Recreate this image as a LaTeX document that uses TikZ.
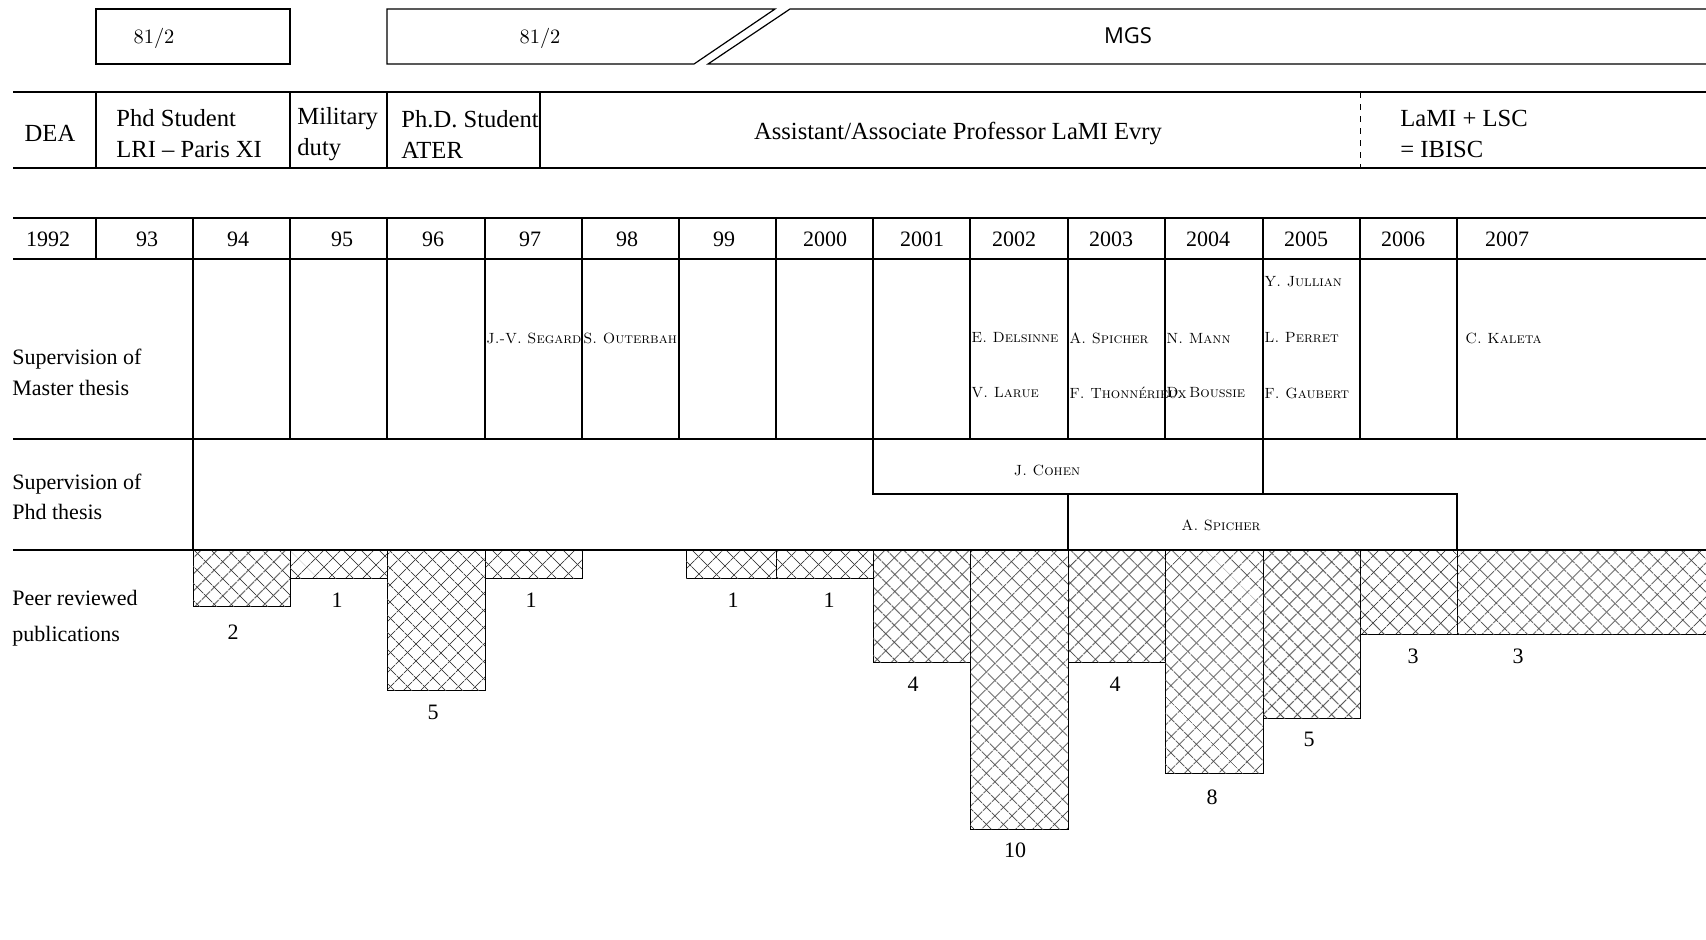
\documentclass[tikz,border=0pt]{standalone}
\usepackage{fontspec}
\newfontfamily\tms[Ligatures=TeX]{Liberation Serif}
\newfontfamily\osans{Open Sans}
\usetikzlibrary{patterns.meta}
\begin{document}
\begin{tikzpicture}[x=0.5pt,y=-0.5pt,
  grid/.style={line width=0.6pt,draw=black},
  thin/.style={line width=0.45pt,draw=black},
  lbl/.style={font=\tms\fontsize{11}{13}\selectfont,inner sep=0pt},
  big/.style={font=\tms\fontsize{12.3}{15.5}\selectfont,inner sep=0pt},
  lefttxt/.style={lbl,anchor=west,align=left},
  bigleft/.style={big,anchor=west,align=left},
  nm/.style={font=\fontsize{7.4}{9}\selectfont\scshape,inner sep=0pt,anchor=west},
  hatch/.style={thin,pattern={Lines[angle=45,distance=6.5pt,line width=0.55pt]},pattern color=black!72,
    postaction={pattern={Lines[angle=-45,distance=6.5pt,line width=0.55pt]},pattern color=black!72}}]
\useasboundingbox (0,0) rectangle (1706,939);
% ---------- top bars
\draw[grid] (96,9) rectangle (290,64);
\node[font=\fontsize{10.2}{12}\selectfont,inner sep=0pt] (half1) at (154,38) {81/2};
\draw[grid] (775,9) -- (387,9) -- (387,64) -- (694,64) -- cycle;
\node[font=\fontsize{10.2}{12}\selectfont,inner sep=0pt] (half2) at (540,38) {81/2};
\draw[grid] (1706,9) -- (790,9) -- (708,64) -- (1706,64);
\node[font=\osans\fontsize{11}{13}\selectfont,inner sep=0pt] (mgs) at (1128,36) {MGS};
% ---------- status row
\draw[grid] (13,92) -- (1706,92);
\draw[grid] (13,168) -- (1706,168);
\foreach \x in {96,290,387,540} \draw[grid] (\x,92) -- (\x,168);
\draw[thin,dashed] (1360,92) -- (1360,168);
\node[big] (dea) at (50,133) {DEA};
\node[bigleft] (phd1) at (116,134) {Phd Student\\LRI – Paris XI};
\node[bigleft] (mil) at (297,134) {Military\\duty};
\node[bigleft] (phd2) at (401,134) {Ph.D. Student\\ATER};
\node[big] (assoc) at (958,133) {Assistant/Associate Professor LaMI Evry};
\node[bigleft] (ibisc) at (1400,134) {LaMI + LSC\\= IBISC};
% ---------- year row
\draw[grid] (13,218) -- (1706,218);
\draw[grid] (13,259) -- (1706,259);
\foreach \x in {96,193,290,387,485,582,679,776,873,970,1068,1165,1263,1360,1457}
  \draw[grid] (\x,218) -- (\x,259);
\foreach \t/\x [count=\i] in {1992/48,93/147,94/238,95/342,96/433,97/530,98/627,99/724,2000/825,2001/922,2002/1014,2003/1111,2004/1208,2005/1306,2006/1403,2007/1507}
  \node[lbl] (year\i) at (\x,239) {\t};
% ---------- master thesis row
\foreach \x in {193,290,387,485,582,679,776,873,970,1068,1165,1263,1360,1457}
  \draw[grid] (\x,259) -- (\x,439);
\draw[grid] (13,439) -- (1706,439);
\node[lefttxt] (mast) at (12,372) {Supervision of\\[2.5pt]Master thesis};
\node[nm] (m1) at (486,338) {J.-V. Segard};
\node[nm] (m2) at (583,338) {S. Outerbah};
\node[nm] (m3) at (971,338) {E. Delsinne};
\node[nm] (m4) at (971,393) {V. Larue};
\node[nm] (m5) at (1069,338) {A. Spicher};
\node[nm] (m6) at (1069,393) {F. Thonnérieux};
\node[nm] (m7) at (1166,338) {N. Mann};
\node[nm] (m8) at (1166,393) {D. Boussie};
\node[nm] (m9) at (1264,282) {Y. Jullian};
\node[nm] (m10) at (1264,338) {L. Perret};
\node[nm] (m11) at (1264,393) {F. Gaubert};
\node[nm] (m12) at (1465,338) {C. Kaleta};
% ---------- phd thesis row
\draw[grid] (193,439) -- (193,550);
\draw[grid] (873,439) -- (873,494) -- (1263,494) -- (1263,439);
\draw[grid] (1068,550) -- (1068,494) -- (1457,494) -- (1457,550);
\node[nm,anchor=center] (cohen) at (1047,470) {J. Cohen};
\node[nm,anchor=center] (spich) at (1221,525) {A. Spicher};
\node[lefttxt] (phdt) at (12,497) {Supervision of\\[2pt]Phd thesis};
% ---------- publications
\foreach \a/\b/\h/\n/\lx/\ly [count=\i] in {193/290/606/2/233/632,290/387/578/1/337/600,387/485/690/5/433/712,485/582/578/1/531/600,686/776/578/1/733/600,776/873/578/1/829/600,873/970/662/4/913/684,970/1068/829/10/1015/850,1068/1165/662/4/1115/684,1165/1263/773/8/1212/797,1263/1360/718/5/1309/739,1360/1457/634/3/1413/656,1457/1706/634/3/1518/656}
{
  \draw[hatch] (\a,550) rectangle (\b,\h);
  \node[lbl] (pub\i) at (\lx,\ly) {\n};
}
\draw[grid] (13,550) -- (1706,550);
\node[lefttxt] (peer) at (12,618) {Peer reviewed\\[5pt]publications};
\end{tikzpicture}
\end{document}
